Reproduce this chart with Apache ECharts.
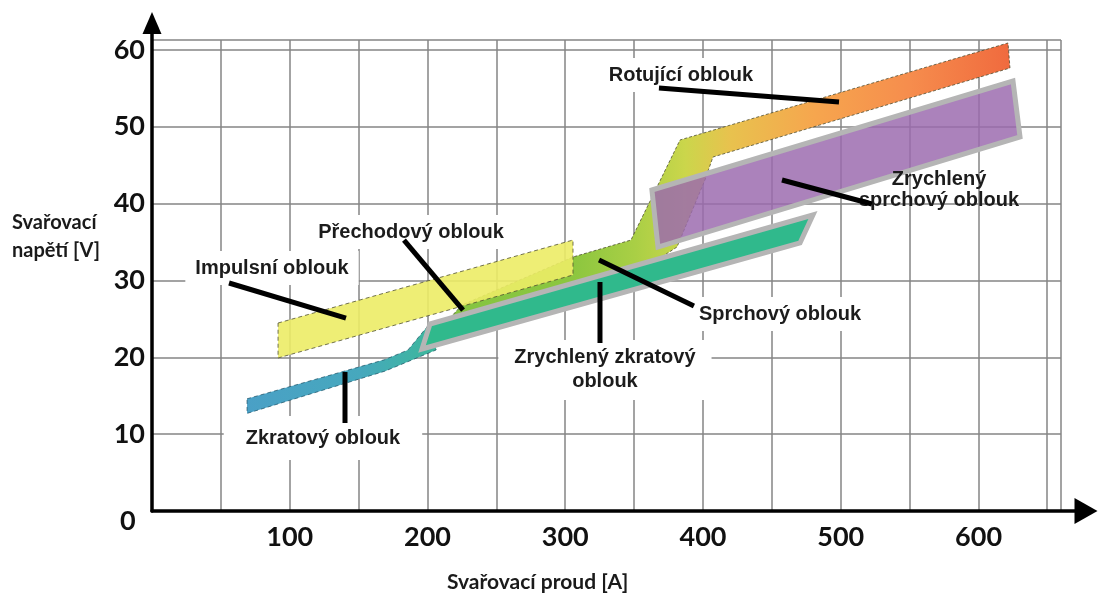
<!DOCTYPE html>
<html><head><meta charset="utf-8">
<script src="https://cdn.jsdelivr.net/npm/echarts@6/dist/echarts.min.js"></script>
<style>html,body{margin:0;padding:0;background:#fff}#c{width:1117px;height:612px}</style>
</head><body><div id="c"></div>
<script>
// ---- axis ticks ----
const xTickValues = [100, 200, 300, 400, 500, 600];
const yTickValues = [10, 20, 30, 40, 50, 60];

// ---- regions (current A, voltage V) ----
const zkratovy = [[69.0,14.6],[169.1,19.7],[185.8,20.95],[200.3,24.1],[206.2,24.1],[206.2,20.95],[169.1,18.2],[69.0,12.7]];
const impulsni = [[91.5,24.46],[305.6,35.26],[305.6,30.71],[91.5,19.91]];
const prechodovySprchovyRotujici = [[216.3,25.11],[225.0,26.81],[305.6,33.05],[347.7,35.26],[383.3,48.28],[621.4,60.90],[622.8,57.64],[407.2,46.06],[401.4,43.07],[381.1,34.35],[368.8,32.92]];
const zrychlenyZkratovy = [[201.8,24.33],[479.8,38.52],[470.4,34.87],[196.0,21.08]];
const zrychlenySprchovy = [[362.9,41.77],[625.0,55.95],[630.1,48.67],[367.3,34.35]];

// ---- annotation labels ----
const labelTexts = ['Rotující oblouk','Impulsní oblouk','Přechodový oblouk','Sprchový oblouk','Zrychlený zkratový\noblouk','Zkratový oblouk','Zrychlený\nsprchový oblouk'];
const labelAnchors = [[384.0,56.73],[87.1,31.62],[188.0,36.30],[455.9,25.63],[328.8,18.35],[124.1,9.50],[571.3,41.77]];
// pointer lines: [A1, V1, A2, V2]
const pointerLines = [[368.0,55.04,498.7,53.22],[55.9,29.67,140.8,25.11],[182.9,35.26,225.8,26.15],[324.5,32.66,393.4,26.68],[325.2,29.80,325.2,21.86],[140.1,18.09,140.1,11.45],[457.3,43.07,522.6,39.95]];

const G = echarts.graphic;
function polySeries(pts, style) {
  return {
    type: 'custom', xAxisIndex: 0, yAxisIndex: 0, clip: false, silent: true,
    data: pts,
    renderItem: function (params, api) {
      if (params.dataIndex !== 0) return;
      const p = pts.map(function (d) { return api.coord(d); });
      return { type: 'polygon', shape: { points: p }, style: style };
    }
  };
}

const chart = echarts.init(document.getElementById('c'), null, { renderer: 'canvas' });
const tickFont = { fontFamily: 'Lato', fontWeight: 'bold', fontSize: 27, color: '#111' };

const option = {
  backgroundColor: '#fff',
  animation: false,
  grid: [
    { left: 152, right: 31, top: 23, bottom: 101, outerBoundsMode: 'none' },
    { left: 152, right: 56, top: 40, bottom: 101, outerBoundsMode: 'none' }
  ],
  xAxis: [
    { type: 'value', gridIndex: 0, min: 0, max: 678, interval: 100,
      splitLine: { show: false }, axisTick: { show: false },
      axisLine: { show: true, onZero: false, lineStyle: { color: '#000', width: 3.5 }, symbol: ['none', 'triangle'], symbolSize: [26, 23] },
      axisLabel: Object.assign({ margin: 13, formatter: function (v) { return xTickValues.indexOf(v) >= 0 ? String(v) : ''; } }, tickFont) },
    { type: 'value', gridIndex: 1, min: 0, max: 660, interval: 50,
      axisLine: { show: false }, axisTick: { show: false }, axisLabel: { show: false },
      splitLine: { show: true, lineStyle: { color: '#858585', width: 1.5 } } }
  ],
  yAxis: [
    { type: 'value', gridIndex: 0, min: 0, max: 63.5, interval: 10,
      splitLine: { show: false }, axisTick: { show: false },
      axisLine: { show: true, onZero: false, lineStyle: { color: '#000', width: 3.5 }, symbol: ['none', 'triangle'], symbolSize: [19, 22] },
      axisLabel: Object.assign({ margin: 7, formatter: function (v) { return yTickValues.indexOf(v) >= 0 ? String(v) : ''; } }, tickFont) },
    { type: 'value', gridIndex: 1, min: 0, max: 61.3, interval: 10,
      axisLine: { show: false }, axisTick: { show: false }, axisLabel: { show: false },
      splitLine: { show: true, lineStyle: { color: '#858585', width: 1.5 } } }
  ],
  graphic: [
    { type: 'text', left: 12, top: 209, style: { text: 'Svařovací\nnapětí [V]', font: 'bold 20px Lato', fill: '#1a1a1a', lineHeight: 28 } },
    { type: 'text', left: 447, top: 572, style: { text: 'Svařovací proud [A]', font: 'bold 21px Lato', fill: '#1a1a1a' } },
    { type: 'text', left: 120, top: 508, style: { text: '0', font: 'bold 27px Lato', fill: '#111' } }
  ],
  series: [
    polySeries(prechodovySprchovyRotujici, {
      fill: new G.LinearGradient(0, 0, 1, 0, [
        { offset: 0, color: '#84c441' }, { offset: 0.22, color: '#8cc63f' }, { offset: 0.33, color: '#a9cf45' },
        { offset: 0.42, color: '#cbd64b' }, { offset: 0.5, color: '#e8c24e' }, { offset: 0.65, color: '#f6a64e' },
        { offset: 0.82, color: '#f68d4d' }, { offset: 1, color: '#f06a3e' }]),
      stroke: 'rgba(70,70,40,0.75)', lineWidth: 1, lineDash: [3, 2]
    }),
    polySeries(impulsni, { fill: 'rgba(236,236,102,0.9)', stroke: 'rgba(80,80,50,0.8)', lineWidth: 1, lineDash: [4, 3] }),
    polySeries(zkratovy, {
      fill: new G.LinearGradient(0, 0, 1, 0, [{ offset: 0, color: '#4aa0c6' }, { offset: 0.6, color: '#46a8bd' }, { offset: 1, color: '#3cb89a' }]),
      stroke: 'rgba(30,80,100,0.7)', lineWidth: 1, lineDash: [4, 3]
    }),
    polySeries(zrychlenyZkratovy, { fill: '#30b98c', stroke: '#b5b5b5', lineWidth: 5, lineJoin: 'miter' }),
    polySeries(zrychlenySprchovy, { fill: 'rgba(155,106,174,0.84)', stroke: '#b5b5b5', lineWidth: 5, lineJoin: 'miter' }),
    {
      type: 'custom', xAxisIndex: 0, yAxisIndex: 0, clip: false, silent: true,
      data: labelAnchors.map(function (d, i) { return [d[0], d[1], i]; }),
      renderItem: function (params, api) {
        const c = api.coord([api.value(0), api.value(1)]);
        const i = api.value(2);
        const noBg = (i === 6);
        const pad = i === 5 ? [10, 22] : (i === 4 ? [6, 16] : [5, 10]);
        return { type: 'text', x: c[0], y: c[1], style: {
          text: labelTexts[i], font: 'bold 20px "Liberation Sans", Arial', fill: '#1c1c1c',
          align: 'center', verticalAlign: 'middle', lineHeight: i === 6 ? 21 : 24,
          backgroundColor: noBg ? null : '#fff', padding: noBg ? 0 : pad } };
      }
    },
    {
      type: 'custom', xAxisIndex: 0, yAxisIndex: 0, clip: false, silent: true,
      data: pointerLines,
      renderItem: function (params, api) {
        const a = api.coord([api.value(0), api.value(1)]);
        const b = api.coord([api.value(2), api.value(3)]);
        return { type: 'line', shape: { x1: a[0], y1: a[1], x2: b[0], y2: b[1] }, style: { stroke: '#000', lineWidth: 5 } };
      }
    }
  ]
};
chart.setOption(option);
</script></body></html>
